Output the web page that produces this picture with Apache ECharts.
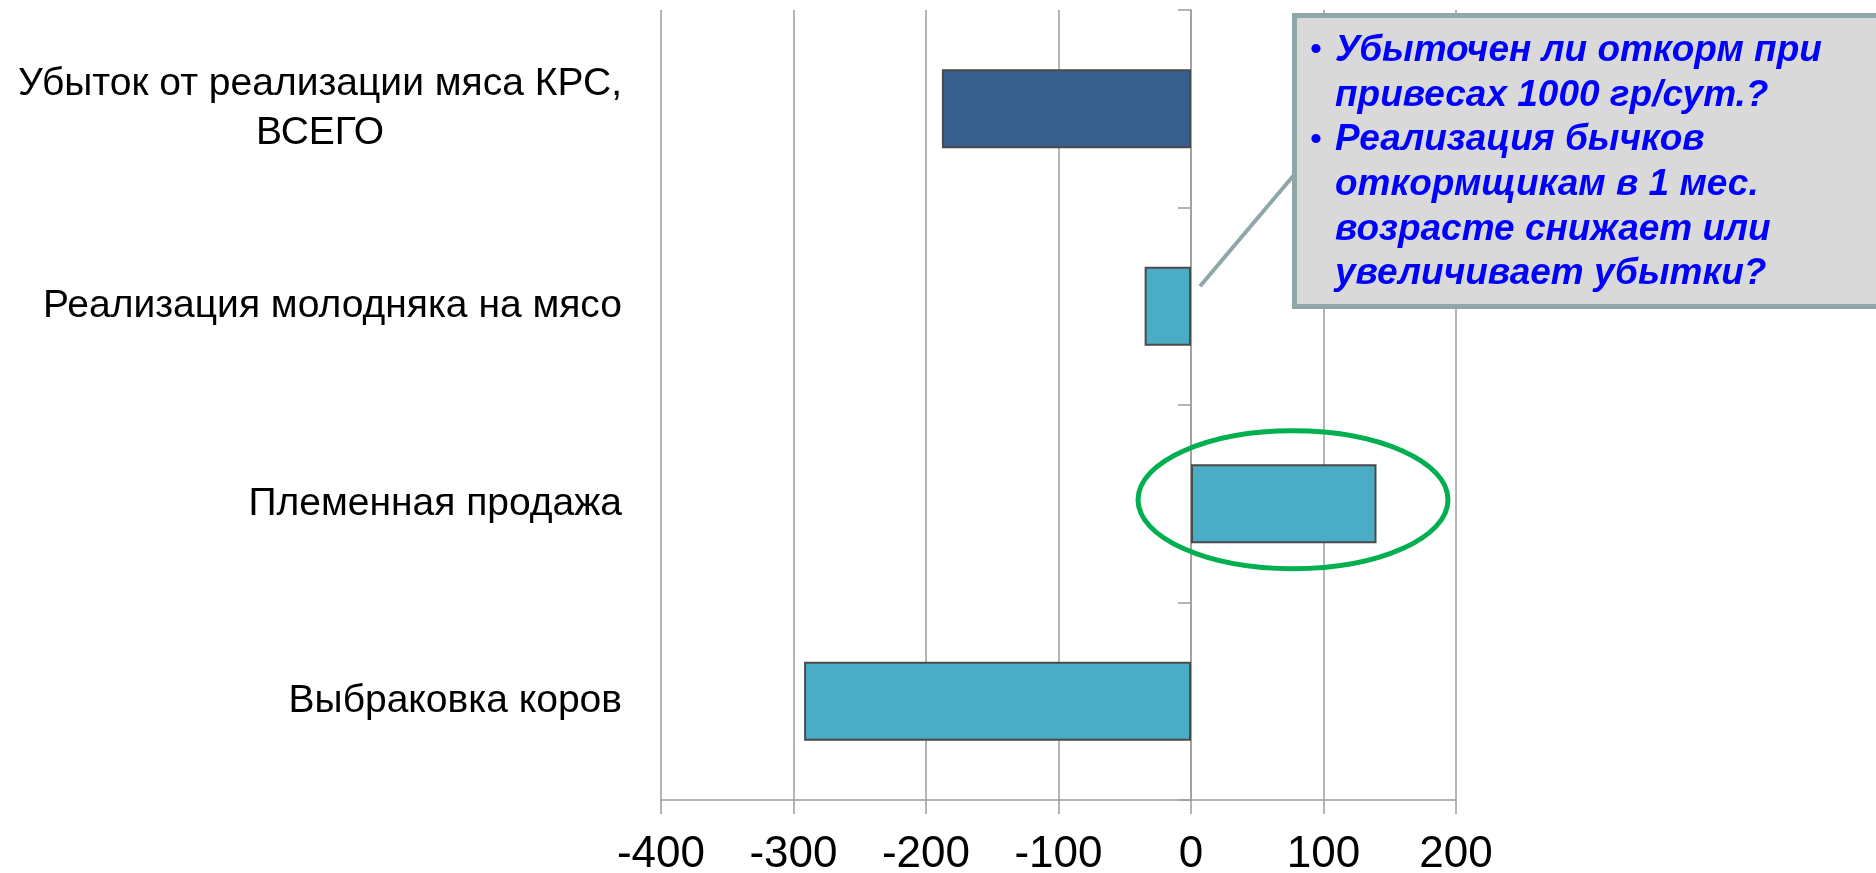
<!DOCTYPE html>
<html><head><meta charset="utf-8">
<script src="https://cdn.jsdelivr.net/npm/echarts@6/dist/echarts.min.js"></script>
<style>html,body{margin:0;padding:0;background:#fff}#c{width:1876px;height:873px}</style>
</head><body><div id="c"></div>
<script>
// ---- data ----
const categories = ['Убыток от реализации мяса КРС,\nВСЕГО', 'Реализация молодняка на мясо', 'Племенная продажа', 'Выбраковка коров'];
const values = [-188, -35, 140, -292];
const totalIndex = 0;
const xMin = -400, xMax = 200, xStep = 100;
const calloutLines = ['Убыточен ли откорм при', 'привесах 1000 гр/сут.?', 'Реализация бычков', 'откормщикам в 1 мес.', 'возрасте снижает или', 'увеличивает убытки?'];
const calloutBullets = [true, false, true, false, false, false];
const highlightIndex = 2;      // category circled in green
const highlightCenterValue = 77;
const connectorIndex = 1;      // category the callout points to

const FONT = '"Liberation Sans", Arial, sans-serif';
const chart = echarts.init(document.getElementById('c'), null, {renderer: 'canvas'});
const gray = '#9C9C9C';

chart.setOption({
  animation: false,
  backgroundColor: '#fff',
  grid: {left: 661, right: 420, top: 10, bottom: 73, outerBoundsMode: 'none', containLabel: false},
  xAxis: {
    type: 'value', min: xMin, max: xMax, interval: xStep,
    axisLine: {show: true, onZero: false, lineStyle: {color: gray, width: 1.5}},
    axisTick: {show: true, length: 14, lineStyle: {color: gray, width: 1.5}},
    splitLine: {show: true, lineStyle: {color: gray, width: 1.5}},
    axisLabel: {fontSize: 44, color: '#000', fontFamily: FONT, margin: 33}
  },
  yAxis: [
    {
      type: 'category', data: categories, inverse: true, position: 'left',
      axisLine: {show: false, onZero: false}, axisTick: {show: false}, splitLine: {show: false},
      axisLabel: {
        margin: 39,
        formatter: v => '{c|' + v + '}',
        rich: {c: {align: 'center', fontSize: 39, lineHeight: 49, fontFamily: FONT, color: '#000'}}
      }
    },
    {
      type: 'category', data: categories, inverse: true, position: 'left',
      axisLine: {show: true, onZero: true, lineStyle: {color: gray, width: 1.5}},
      axisTick: {show: true, length: 13, lineStyle: {color: gray, width: 1.5}},
      axisLabel: {show: false}, splitLine: {show: false}
    }
  ],
  series: [{
    type: 'bar', yAxisIndex: 0, data: values, barCategoryGap: '60%',
    itemStyle: {
      color: p => p.dataIndex === totalIndex ? '#375F8E' : '#4BACC6',
      borderColor: '#4A4A4A', borderWidth: 2
    }
  }]
});

// ---- annotations anchored to chart coordinates ----
const hc = chart.convertToPixel({xAxisIndex: 0, yAxisIndex: 0}, [highlightCenterValue, highlightIndex]);
const cp = chart.convertToPixel({xAxisIndex: 0, yAxisIndex: 0}, [0, connectorIndex]);
const boxX = 1294.5, boxY = 15.5, boxH = 291;
const lineY0 = 51, lineGap = 44.6, textX = 1335;

const elements = [
  {type: 'line', z: 10, shape: {x1: cp[0] + 9, y1: cp[1] - 20, x2: boxX + 2, y2: 172},
   style: {stroke: '#8FA7A9', lineWidth: 4}},
  {type: 'rect', z: 11, shape: {x: boxX, y: boxY, width: 700, height: boxH},
   style: {fill: '#D9D9D9', stroke: '#8FA7A9', lineWidth: 5}},
  {type: 'ellipse', z: 12, shape: {cx: hc[0], cy: hc[1] - 4, rx: 155, ry: 69},
   style: {fill: 'none', stroke: '#00B050', lineWidth: 5}}
];
calloutLines.forEach((t, i) => {
  const y = lineY0 + lineGap * i;
  elements.push({type: 'text', z: 13, style: {text: t, x: textX, y: y, fill: '#0000FF',
    font: 'italic bold 37px ' + FONT, verticalAlign: 'middle', align: 'left'}});
  if (calloutBullets[i]) {
    elements.push({type: 'text', z: 13, style: {text: '•', x: 1316, y: y, fill: '#0000FF',
      font: '34px ' + FONT, verticalAlign: 'middle', align: 'center'}});
  }
});
chart.setOption({graphic: {elements: elements}});
</script></body></html>
